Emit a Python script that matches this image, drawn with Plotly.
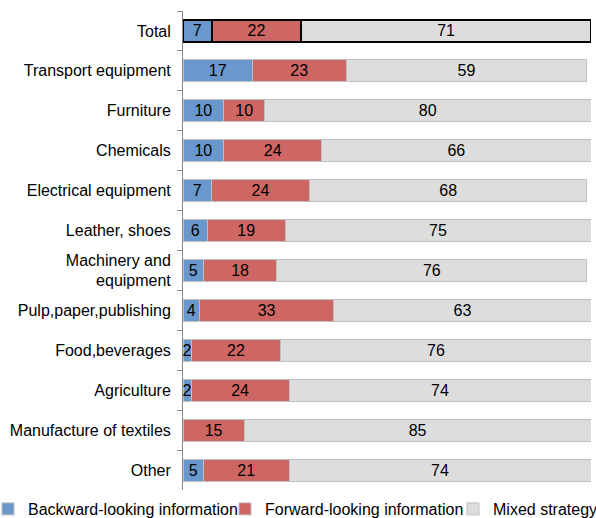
import plotly.graph_objects as go

categories = ["Total", "Transport equipment", "Furniture", "Chemicals", "Electrical equipment",
              "Leather, shoes", "Machinery and<br>equipment", "Pulp,paper,publishing",
              "Food,beverages", "Agriculture", "Manufacture of textiles", "Other"]
backward = [7, 17, 10, 10, 7, 6, 5, 4, 2, 2, 0, 5]
forward = [22, 23, 10, 24, 24, 19, 18, 33, 22, 24, 15, 21]
mixed = [71, 59, 80, 66, 68, 75, 76, 63, 76, 74, 85, 74]

series = [
    ("Backward-looking information", backward, "#6A98CC", "legend"),
    ("Forward-looking information", forward, "#CE6764", "legend2"),
    ("Mixed strategy", mixed, "#DDDDDD", "legend3"),
]

FONT = "Liberation Sans, Arial"

W, H = 596, 518
ML, MR, MT, MB = 183, 5, 11, 28
PW = W - ML - MR

fig = go.Figure()
line_colors = ["#000000"] + ["#BFBFBF"] * (len(categories) - 1)
line_widths = [2] + [1] * (len(categories) - 1)
for name, vals, color, lg in series:
    fig.add_trace(go.Bar(
        y=categories[::-1], x=vals[::-1], name=name, orientation="h", legend=lg,
        marker=dict(color=color, line=dict(color=line_colors[::-1], width=line_widths[::-1])),
        text=[str(v) if v else "" for v in vals[::-1]],
        textposition="inside", insidetextanchor="middle", textangle=0,
        textfont=dict(family=FONT, size=16, color="#000000"),
        cliponaxis=False,
    ))

def leg(page_x):
    return dict(orientation="h", xref="paper", yref="container",
                x=(page_x - ML) / PW, xanchor="left", y=9 / H, yanchor="middle",
                font=dict(family=FONT, size=16, color="#000000"),
                itemwidth=30, bgcolor="rgba(0,0,0,0)")

fig.update_layout(
    barmode="stack",
    bargap=0.45,
    width=W, height=H,
    margin=dict(l=ML, r=MR, t=MT, b=MB, autoexpand=False),
    paper_bgcolor="white", plot_bgcolor="white",
    font=dict(family=FONT, size=16, color="#000000"),
    uniformtext=dict(minsize=16, mode="show"),
    showlegend=True,
    legend=leg(-12),
    legend2=leg(225),
    legend3=leg(453),
    xaxis=dict(range=[0, 100], visible=False, showgrid=False, zeroline=False),
    yaxis=dict(categoryorder="array", categoryarray=categories, autorange="reversed",
               showline=True, linecolor="#888888", linewidth=1,
               ticks="outside", tickson="boundaries", ticklen=5, tickcolor="#888888",
               showgrid=False, ticklabelstandoff=8, automargin=False,
               tickfont=dict(family=FONT, size=16, color="#000000")),
)

fig.write_html("out.html", config={"displayModeBar": False},
               post_script="document.body.style.margin='0';document.body.style.overflow='hidden';")
